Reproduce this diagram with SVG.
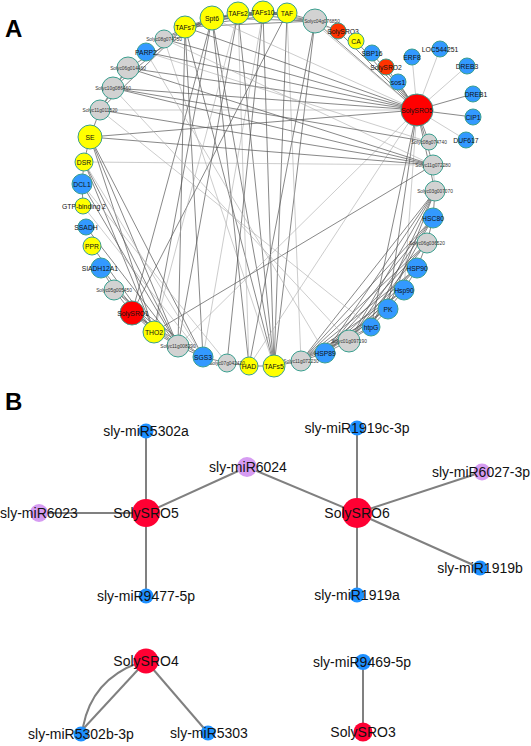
<svg xmlns="http://www.w3.org/2000/svg" width="531" height="746" viewBox="0 0 531 746">
<style>
.e{stroke:#555;stroke-width:0.7;fill:none}
.l{stroke:#aaa;stroke-width:0.6;fill:none}
.eb{stroke:#808080;stroke-width:2;fill:none}
circle{stroke:#3a9f8f;stroke-width:1}
.Y{fill:#ffff00}.B{fill:#3399ff}.R{fill:#ff0000}.O{fill:#ff3300}.G{fill:#d2d2d2}
.t{font-family:"Liberation Sans",Arial,sans-serif;font-size:6.8px;fill:#111;text-anchor:middle}
.ts{font-family:"Liberation Sans",Arial,sans-serif;font-size:4.8px;fill:#333;text-anchor:middle}
.bB{fill:#1e90ff;stroke:none}.bR{fill:#ff0033;stroke:none}.bP{fill:#d69cf2;stroke:none}
.tb{font-family:"Liberation Sans",Arial,sans-serif;font-size:14px;fill:#111;text-anchor:middle}
.lab{font-family:"Liberation Sans",Arial,sans-serif;font-size:24px;font-weight:bold;fill:#000}
</style>
<rect width="531" height="746" fill="#fff"/>
<text class="lab" x="5" y="37">A</text>
<text class="lab" x="5" y="410">B</text>
<g id="connectors-A">
<line class="e" x1="185" y1="27" x2="212" y2="18"/><line class="e" x1="185" y1="27" x2="238" y2="13"/><line class="e" x1="185" y1="27" x2="263" y2="12"/><line class="e" x1="185" y1="27" x2="287" y2="13"/>
<line class="e" x1="212" y1="18" x2="238" y2="13"/><line class="e" x1="212" y1="18" x2="263" y2="12"/><line class="e" x1="212" y1="18" x2="287" y2="13"/><line class="e" x1="238" y1="13" x2="263" y2="12"/>
<line class="e" x1="238" y1="13" x2="287" y2="13"/><line class="e" x1="263" y1="12" x2="287" y2="13"/><line class="e" x1="287" y1="13" x2="315" y2="21"/><line class="e" x1="263" y1="12" x2="315" y2="21"/>
<line class="e" x1="238" y1="13" x2="315" y2="21"/><line class="e" x1="212" y1="18" x2="315" y2="21"/><line class="e" x1="185" y1="27" x2="315" y2="21"/><line class="e" x1="164" y1="39" x2="185" y2="27"/><line class="e" x1="164" y1="39" x2="212" y2="18"/>
<line class="e" x1="274" y1="366" x2="185" y2="27"/><line class="e" x1="274" y1="366" x2="212" y2="18"/><line class="e" x1="274" y1="366" x2="238" y2="13"/><line class="e" x1="274" y1="366" x2="263" y2="12"/>
<line class="e" x1="274" y1="366" x2="287" y2="13"/><line class="e" x1="274" y1="366" x2="315" y2="21"/><line class="l" x1="274" y1="366" x2="164" y2="39"/><line class="e" x1="249" y1="366" x2="212" y2="18"/>
<line class="l" x1="249" y1="366" x2="238" y2="13"/><line class="e" x1="227" y1="363" x2="263" y2="12"/><line class="e" x1="249" y1="366" x2="315" y2="21"/><line class="l" x1="301" y1="361" x2="287" y2="13"/><line class="e" x1="274" y1="366" x2="301" y2="361"/>
<line class="e" x1="185" y1="27" x2="178" y2="346"/><line class="e" x1="185" y1="27" x2="203" y2="357"/><line class="e" x1="212" y1="18" x2="154" y2="332"/><line class="e" x1="212" y1="18" x2="132" y2="313"/>
<line class="e" x1="238" y1="13" x2="178" y2="346"/><line class="l" x1="263" y1="12" x2="203" y2="357"/><line class="e" x1="287" y1="13" x2="132" y2="313"/><line class="l" x1="238" y1="13" x2="154" y2="332"/>
<line class="l" x1="417" y1="110" x2="412" y2="57"/><line class="l" x1="417" y1="110" x2="440" y2="49"/><line class="l" x1="417" y1="110" x2="467" y2="66"/><line class="e" x1="417" y1="110" x2="473" y2="94"/>
<line class="e" x1="417" y1="110" x2="473" y2="117"/><line class="l" x1="417" y1="110" x2="466" y2="140"/><line class="e" x1="417" y1="110" x2="398" y2="82"/><line class="e" x1="417" y1="110" x2="386" y2="67"/>
<line class="e" x1="417" y1="110" x2="372" y2="53"/><line class="e" x1="417" y1="110" x2="356" y2="41"/><line class="e" x1="417" y1="110" x2="338" y2="31"/><line class="e" x1="417" y1="110" x2="315" y2="21"/><line class="l" x1="412" y1="106" x2="318" y2="26"/>
<line class="e" x1="417" y1="110" x2="429" y2="142"/><line class="e" x1="417" y1="110" x2="433" y2="165"/><line class="e" x1="417" y1="110" x2="435" y2="191"/><line class="e" x1="417" y1="110" x2="388" y2="309"/>
<line class="e" x1="417" y1="110" x2="371" y2="327"/><line class="l" x1="417" y1="110" x2="404" y2="290"/><line class="l" x1="417" y1="110" x2="249" y2="366"/><line class="l" x1="417" y1="110" x2="178" y2="346"/>
<line class="e" x1="185" y1="27" x2="417" y2="110"/><line class="l" x1="212" y1="18" x2="417" y2="110"/><line class="e" x1="164" y1="39" x2="417" y2="110"/><line class="e" x1="146" y1="52" x2="417" y2="110"/>
<line class="e" x1="128" y1="68" x2="417" y2="110"/><line class="e" x1="113" y1="88" x2="417" y2="110"/><line class="l" x1="100" y1="110" x2="417" y2="110"/><line class="e" x1="90" y1="137" x2="417" y2="110"/>
<line class="e" x1="128" y1="68" x2="433" y2="165"/><line class="e" x1="113" y1="88" x2="433" y2="165"/><line class="e" x1="90" y1="137" x2="433" y2="165"/><line class="l" x1="84" y1="162" x2="433" y2="165"/>
<line class="e" x1="154" y1="332" x2="433" y2="165"/><line class="l" x1="164" y1="39" x2="433" y2="165"/><line class="e" x1="100" y1="110" x2="433" y2="165"/><line class="e" x1="113" y1="88" x2="429" y2="142"/><line class="l" x1="146" y1="52" x2="429" y2="142"/>
<line class="e" x1="90" y1="137" x2="178" y2="346"/><line class="e" x1="90" y1="137" x2="203" y2="357"/><line class="e" x1="90" y1="137" x2="154" y2="332"/><line class="e" x1="84" y1="162" x2="154" y2="332"/>
<line class="e" x1="84" y1="162" x2="178" y2="346"/><line class="l" x1="84" y1="162" x2="203" y2="357"/><line class="e" x1="82" y1="184" x2="178" y2="346"/><line class="l" x1="83" y1="206" x2="203" y2="357"/>
<line class="e" x1="86" y1="227" x2="178" y2="346"/><line class="e" x1="92" y1="246" x2="154" y2="332"/><line class="l" x1="82" y1="184" x2="227" y2="363"/>
<line class="e" x1="113" y1="88" x2="100" y2="110"/><line class="e" x1="128" y1="68" x2="113" y2="88"/><line class="e" x1="100" y1="110" x2="90" y2="137"/><line class="e" x1="128" y1="68" x2="100" y2="110"/>
<line class="e" x1="90" y1="137" x2="84" y2="162"/><line class="e" x1="84" y1="162" x2="82" y2="184"/><line class="e" x1="82" y1="184" x2="83" y2="206"/><line class="e" x1="113" y1="88" x2="185" y2="27"/>
<line class="e" x1="100" y1="110" x2="185" y2="27"/><line class="e" x1="128" y1="68" x2="212" y2="18"/><line class="e" x1="101" y1="268" x2="114" y2="290"/><line class="e" x1="114" y1="290" x2="132" y2="313"/>
<line class="e" x1="132" y1="313" x2="154" y2="332"/><line class="e" x1="154" y1="332" x2="178" y2="346"/><line class="e" x1="178" y1="346" x2="203" y2="357"/><line class="e" x1="203" y1="357" x2="227" y2="363"/>
<line class="e" x1="114" y1="290" x2="203" y2="357"/><line class="e" x1="114" y1="290" x2="178" y2="346"/><line class="e" x1="132" y1="313" x2="178" y2="346"/><line class="e" x1="101" y1="268" x2="154" y2="332"/>
<line class="e" x1="132" y1="313" x2="203" y2="357"/><line class="e" x1="227" y1="363" x2="249" y2="366"/><line class="e" x1="249" y1="366" x2="274" y2="366"/>
<line class="e" x1="301" y1="361" x2="435" y2="191"/><line class="e" x1="301" y1="361" x2="433" y2="218"/><line class="e" x1="301" y1="361" x2="427" y2="243"/><line class="e" x1="301" y1="361" x2="417" y2="268"/>
<line class="e" x1="301" y1="361" x2="404" y2="290"/><line class="e" x1="301" y1="361" x2="388" y2="309"/><line class="e" x1="301" y1="361" x2="371" y2="327"/><line class="e" x1="301" y1="361" x2="325" y2="353"/>
<line class="e" x1="325" y1="353" x2="435" y2="191"/><line class="e" x1="325" y1="353" x2="433" y2="218"/><line class="e" x1="325" y1="353" x2="427" y2="243"/><line class="e" x1="325" y1="353" x2="417" y2="268"/>
<line class="e" x1="325" y1="353" x2="404" y2="290"/><line class="e" x1="325" y1="353" x2="388" y2="309"/><line class="e" x1="325" y1="353" x2="349" y2="341"/><line class="e" x1="349" y1="341" x2="435" y2="191"/>
<line class="e" x1="349" y1="341" x2="433" y2="218"/><line class="e" x1="349" y1="341" x2="427" y2="243"/><line class="e" x1="349" y1="341" x2="417" y2="268"/><line class="e" x1="349" y1="341" x2="371" y2="327"/>
<line class="e" x1="371" y1="327" x2="435" y2="191"/><line class="e" x1="371" y1="327" x2="433" y2="218"/><line class="e" x1="371" y1="327" x2="388" y2="309"/><line class="e" x1="388" y1="309" x2="435" y2="191"/>
<line class="e" x1="388" y1="309" x2="404" y2="290"/><line class="e" x1="404" y1="290" x2="417" y2="268"/><line class="e" x1="417" y1="268" x2="427" y2="243"/><line class="e" x1="427" y1="243" x2="433" y2="218"/>
<line class="e" x1="433" y1="218" x2="435" y2="191"/><line class="l" x1="435" y1="191" x2="433" y2="165"/>
<line class="l" x1="113" y1="88" x2="349" y2="341"/><line class="l" x1="100" y1="110" x2="371" y2="327"/><line class="l" x1="146" y1="52" x2="325" y2="353"/>
<line class="e" x1="315" y1="21" x2="338" y2="31"/><line class="l" x1="338" y1="31" x2="287" y2="13"/>
</g>
<g id="nodes-A">
<g id="n-TAFs7"><circle class="Y" cx="185" cy="27" r="11"/><text class="t" x="185" y="29.5">TAFs7</text></g>
<g id="n-Spt6"><circle class="Y" cx="212" cy="18" r="12"/><text class="t" x="212" y="20.5">Spt6</text></g>
<g id="n-TAFs2"><circle class="Y" cx="238" cy="13" r="11"/><text class="t" x="238" y="15.5">TAFs2</text></g>
<g id="n-TAFs10"><circle class="Y" cx="263" cy="12" r="11"/><text class="t" x="263" y="14.5">TAFs10</text></g>
<g id="n-TAF"><circle class="Y" cx="287" cy="13" r="10"/><text class="t" x="287" y="15.5">TAF</text></g>
<g id="n-Solyc04g076850"><circle class="G" cx="315" cy="21" r="12"/><text class="ts" x="322" y="22.5">Solyc04g076850</text></g>
<g id="n-SolySRO3"><circle class="O" cx="338" cy="31" r="8"/><text class="t" x="343" y="33.5">SolySRO3</text></g>
<g id="n-CA"><circle class="Y" cx="356" cy="41" r="8"/><text class="t" x="356" y="43.5">CA</text></g>
<g id="n-SBP16"><circle class="B" cx="372" cy="53" r="8"/><text class="t" x="372" y="55.5">SBP16</text></g>
<g id="n-SolySRO2"><circle class="O" cx="386" cy="67" r="8"/><text class="t" x="386" y="69.5">SolySRO2</text></g>
<g id="n-sos1"><circle class="B" cx="398" cy="82" r="8"/><text class="t" x="398" y="84.5">sos1</text></g>
<g id="n-ERF8"><circle class="B" cx="412" cy="57" r="8"/><text class="t" x="412" y="59.5">ERF8</text></g>
<g id="n-LOC544251"><circle class="B" cx="440" cy="49" r="8"/><text class="t" x="440" y="51.5">LOC544251</text></g>
<g id="n-DREB3"><circle class="B" cx="467" cy="66" r="8"/><text class="t" x="467" y="68.5">DREB3</text></g>
<g id="n-DREB1"><circle class="B" cx="473" cy="94" r="8"/><text class="t" x="476" y="96.5">DREB1</text></g>
<g id="n-CIP1"><circle class="B" cx="473" cy="117" r="8"/><text class="t" x="473" y="119.5">CIP1</text></g>
<g id="n-DUF617"><circle class="B" cx="466" cy="140" r="8"/><text class="t" x="466" y="142.5">DUF617</text></g>
<g id="n-SolySRO5-a"><circle class="R" cx="417" cy="110" r="16"/><text class="t" x="417" y="112.5">SolySRO5</text></g>
<g id="n-Solyc08g074740"><circle class="G" cx="429" cy="142" r="8"/><text class="ts" x="429" y="143.5">Solyc08g074740</text></g>
<g id="n-Solyc11g072280"><circle class="G" cx="433" cy="165" r="10"/><text class="ts" x="433" y="166.5">Solyc11g072280</text></g>
<g id="n-Solyc03g007070"><circle class="G" cx="435" cy="191" r="10"/><text class="ts" x="435" y="192.5">Solyc03g007070</text></g>
<g id="n-HSC80"><circle class="B" cx="433" cy="218" r="10"/><text class="t" x="433" y="220.5">HSC80</text></g>
<g id="n-Solyc06g036520"><circle class="G" cx="427" cy="243" r="10"/><text class="ts" x="427" y="244.5">Solyc06g036520</text></g>
<g id="n-HSP90"><circle class="B" cx="417" cy="268" r="10"/><text class="t" x="417" y="270.5">HSP90</text></g>
<g id="n-Hsp90"><circle class="B" cx="404" cy="290" r="10"/><text class="t" x="404" y="292.5">Hsp90</text></g>
<g id="n-PK"><circle class="B" cx="388" cy="309" r="10"/><text class="t" x="388" y="311.5">PK</text></g>
<g id="n-htpG"><circle class="B" cx="371" cy="327" r="9"/><text class="t" x="371" y="329.5">htpG</text></g>
<g id="n-Solyc01g097190"><circle class="G" cx="349" cy="341" r="11"/><text class="ts" x="349" y="342.5">Solyc01g097190</text></g>
<g id="n-HSP89"><circle class="B" cx="325" cy="353" r="10"/><text class="t" x="325" y="355.5">HSP89</text></g>
<g id="n-Solyc11g072230"><circle class="G" cx="301" cy="361" r="10"/><text class="ts" x="301" y="362.5">Solyc11g072230</text></g>
<g id="n-TAFs5"><circle class="Y" cx="274" cy="366" r="11"/><text class="t" x="274" y="368.5">TAFs5</text></g>
<g id="n-HAD"><circle class="Y" cx="249" cy="366" r="9"/><text class="t" x="249" y="368.5">HAD</text></g>
<g id="n-Solyc07g042420"><circle class="G" cx="227" cy="363" r="9"/><text class="ts" x="227" y="364.5">Solyc07g042420</text></g>
<g id="n-SGS3"><circle class="B" cx="203" cy="357" r="10"/><text class="t" x="203" y="359.5">SGS3</text></g>
<g id="n-Solyc11g008290"><circle class="G" cx="178" cy="346" r="11"/><text class="ts" x="178" y="347.5">Solyc11g008290</text></g>
<g id="n-THO2"><circle class="Y" cx="154" cy="332" r="11"/><text class="t" x="154" y="334.5">THO2</text></g>
<g id="n-SolySRO1"><circle class="R" cx="132" cy="313" r="12"/><text class="t" x="133" y="315.5">SolySRO1</text></g>
<g id="n-Solyc05g005450"><circle class="G" cx="114" cy="290" r="10"/><text class="ts" x="114" y="291.5">Solyc05g005450</text></g>
<g id="n-SlADH12A1"><circle class="B" cx="101" cy="268" r="10"/><text class="t" x="100" y="270.5">SlADH12A1</text></g>
<g id="n-PPR"><circle class="Y" cx="92" cy="246" r="9"/><text class="t" x="92" y="248.5">PPR</text></g>
<g id="n-SSADH"><circle class="B" cx="86" cy="227" r="8"/><text class="t" x="86" y="229.5">SSADH</text></g>
<g id="n-GTP-binding2"><circle class="Y" cx="83" cy="206" r="8"/><text class="t" x="84" y="208.5">GTP-binding 2</text></g>
<g id="n-DCL1"><circle class="B" cx="82" cy="184" r="10"/><text class="t" x="82" y="186.5">DCL1</text></g>
<g id="n-DSR"><circle class="Y" cx="84" cy="162" r="9"/><text class="t" x="84" y="164.5">DSR</text></g>
<g id="n-SE"><circle class="Y" cx="90" cy="137" r="12"/><text class="t" x="90" y="139.5">SE</text></g>
<g id="n-Solyc11g011520"><circle class="G" cx="100" cy="110" r="10"/><text class="ts" x="100" y="111.5">Solyc11g011520</text></g>
<g id="n-Solyc10g086460"><circle class="G" cx="113" cy="88" r="11"/><text class="ts" x="113" y="89.5">Solyc10g086460</text></g>
<g id="n-Solyc06g014460"><circle class="G" cx="128" cy="68" r="11"/><text class="ts" x="128" y="69.5">Solyc06g014460</text></g>
<g id="n-PARP2"><circle class="B" cx="146" cy="52" r="9"/><text class="t" x="146" y="54.5">PARP2</text></g>
<g id="n-Solyc08g074750"><circle class="G" cx="164" cy="39" r="9"/><text class="ts" x="164" y="40.5">Solyc08g074750</text></g>
</g>
<g id="connectors-B">
<line class="eb" x1="146" y1="513" x2="146" y2="431"/>
<line class="eb" x1="146" y1="513" x2="39" y2="513"/>
<line class="eb" x1="146" y1="513" x2="146" y2="596"/>
<line class="eb" x1="146" y1="513" x2="247" y2="467"/>
<line class="eb" x1="247" y1="467" x2="357" y2="513"/>
<line class="eb" x1="357" y1="513" x2="357" y2="428"/>
<line class="eb" x1="357" y1="513" x2="482" y2="472"/>
<line class="eb" x1="357" y1="513" x2="480" y2="568"/>
<line class="eb" x1="357" y1="513" x2="357" y2="595"/>
<line class="eb" x1="146" y1="661" x2="84" y2="728"/>
<path class="eb" d="M138,663 Q92,680 83,727"/>
<line class="eb" x1="146" y1="661" x2="208" y2="733"/>
<line class="eb" x1="363" y1="662" x2="363" y2="731"/>
</g>
<g id="nodes-B">
<g id="b-sly-miR5302a"><circle class="bB" cx="146" cy="431" r="7.5"/><text class="tb" x="146" y="436">sly-miR5302a</text></g>
<g id="b-sly-miR6023"><circle class="bP" cx="39" cy="513" r="9"/><text class="tb" x="39" y="518">sly-miR6023</text></g>
<g id="b-SolySRO5"><circle class="bR" cx="146" cy="513" r="14"/><text class="tb" x="146" y="518">SolySRO5</text></g>
<g id="b-sly-miR9477-5p"><circle class="bB" cx="146" cy="596" r="7.5"/><text class="tb" x="146" y="601">sly-miR9477-5p</text></g>
<g id="b-sly-miR6024"><circle class="bP" cx="247" cy="467" r="10"/><text class="tb" x="248" y="472">sly-miR6024</text></g>
<g id="b-sly-miR1919c-3p"><circle class="bB" cx="357" cy="428" r="7.5"/><text class="tb" x="357" y="433">sly-miR1919c-3p</text></g>
<g id="b-SolySRO6"><circle class="bR" cx="357" cy="513" r="15"/><text class="tb" x="357" y="518">SolySRO6</text></g>
<g id="b-sly-miR6027-3p"><circle class="bP" cx="482" cy="472" r="8.5"/><text class="tb" x="481" y="477">sly-miR6027-3p</text></g>
<g id="b-sly-miR1919b"><circle class="bB" cx="480" cy="568" r="7.5"/><text class="tb" x="480" y="573">sly-miR1919b</text></g>
<g id="b-sly-miR1919a"><circle class="bB" cx="357" cy="595" r="7.5"/><text class="tb" x="357" y="600">sly-miR1919a</text></g>
<g id="b-SolySRO4"><circle class="bR" cx="146" cy="661" r="12.5"/><text class="tb" x="146" y="666">SolySRO4</text></g>
<g id="b-sly-miR5302b-3p"><circle class="bB" cx="81" cy="734" r="7.5"/><text class="tb" x="81" y="739">sly-miR5302b-3p</text></g>
<g id="b-sly-miR5303"><circle class="bB" cx="208" cy="733" r="7.5"/><text class="tb" x="209" y="738">sly-miR5303</text></g>
<g id="b-sly-miR9469-5p"><circle class="bB" cx="363" cy="662" r="8"/><text class="tb" x="362" y="667">sly-miR9469-5p</text></g>
<g id="b-SolySRO3"><circle class="bR" cx="363" cy="732" r="9.5"/><text class="tb" x="363" y="737">SolySRO3</text></g>
</g>
</svg>
